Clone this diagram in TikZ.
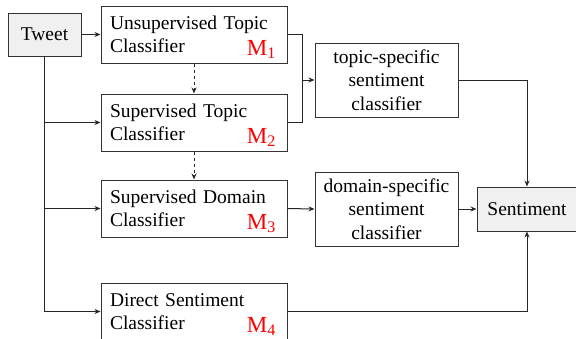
\documentclass[tikz,border=0pt]{standalone}
\usepackage{fontspec}
\setmainfont{Liberation Serif}
\usepackage{tikz}
\usetikzlibrary{positioning, arrows.meta}
\usetikzlibrary{calc}

\tikzset{
  box/.style={draw=black!80, line width=1pt, inner sep=0pt},
  clf/.style={box, minimum width=186, minimum height=57, text width=168, align=left},
  sent/.style={box, minimum width=143, minimum height=74, align=center},
  io/.style={box, fill=gray!12},
  mlab/.style={red, anchor=south east, font=\fontsize{23}{23}\selectfont},
  link/.style={draw=black!85, line width=1pt, -{Stealth[length=6pt, width=5pt]}},
  plain/.style={draw=black!85, line width=1pt},
}

\begin{document}
\begin{tikzpicture}[x=1pt, y=-1pt, font=\fontsize{19.5}{23.5}\selectfont]

  \useasboundingbox (0,0) rectangle (576,338);

  % Input
  \node[io, minimum width=73, minimum height=43] (tweet) at (44.5,34.5) {Tweet};

  % Four classifiers
  \node[clf] (m1) at (194,34.5) {Unsupervised Topic\\Classifier};
  \node[clf] (m2) at (194,122.5) {Supervised Topic\\Classifier};
  \node[clf] (m3) at (194,208.5) {Supervised Domain\\Classifier};
  \node[clf] (m4) at (194,311.5) {Direct Sentiment\\Classifier};

  % Model labels
  \node[mlab] (l1) at ($(m1.south east)+(-8,-1)$) {M\textsubscript{1}};
  \node[mlab] (l2) at ($(m2.south east)+(-8,-1)$) {M\textsubscript{2}};
  \node[mlab] (l3) at ($(m3.south east)+(-8,-1)$) {M\textsubscript{3}};
  \node[mlab] (l4) at ($(m4.south east)+(-8,-1)$) {M\textsubscript{4}};

  % Sentiment classifiers
  \node[sent] (topic) at (386.5,80) {topic-specific\\sentiment\\classifier};
  \node[sent] (domain) at (386.5,209) {domain-specific\\sentiment\\classifier};

  % Output
  \node[io, minimum width=100, minimum height=44] (out) at (527,209) {Sentiment};

  % Tweet to classifiers
  \coordinate (trunk) at ($(tweet.south)+(0,0)$);
  \draw[link] (tweet.east |- m1.west) -- (m1.west);
  \draw[link] (trunk) |- (m2.west);
  \draw[link] (trunk) |- (m3.west);
  \draw[link] (trunk) |- (m4.west);

  % Dashed dependencies
  \draw[link, dashed] (m1.south) -- (m2.north);
  \draw[link, dashed] (m2.south) -- (m3.north);

  % Topic classifiers merge
  \coordinate (merge) at (302,80);
  \draw[plain] (m1.east) -| (merge);
  \draw[plain] (m2.east) -| (merge);
  \draw[link] (merge) -- (topic.west);

  \draw[link] (m3.east) -- (domain.west);
  \draw[link] (domain.east) -- (out.west);

  % Into sentiment
  \draw[link] (topic.east) -| (out.north);
  \draw[link] (m4.east) -| (out.south);

\end{tikzpicture}
\end{document}
